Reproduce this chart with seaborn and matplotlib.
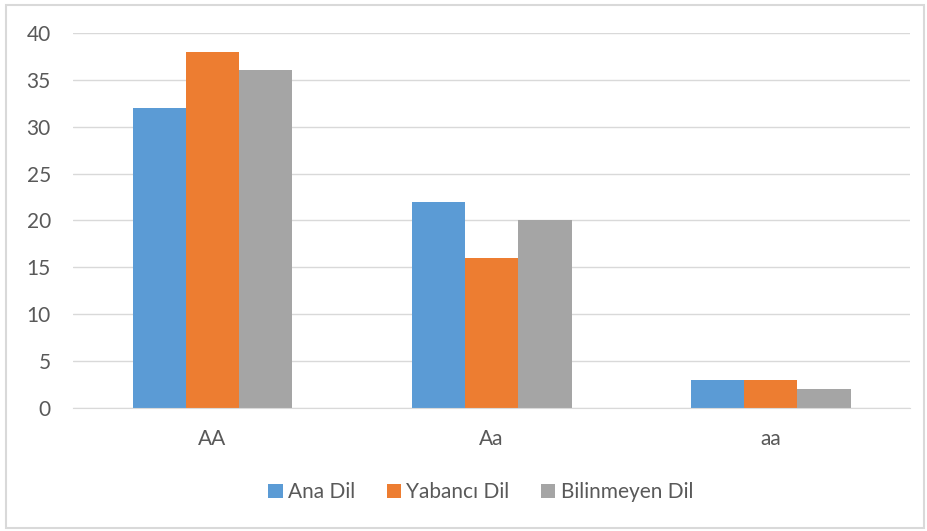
import pandas as pd
import seaborn as sns
import matplotlib.pyplot as plt
from matplotlib.patches import Rectangle

# data
genotypes = ['AA', 'Aa', 'aa']
series = ['Ana Dil', 'Yabancı Dil', 'Bilinmeyen Dil']
ana_dil = [32, 22, 3]
yabanci_dil = [38, 16, 3]
bilinmeyen_dil = [36, 20, 2]
colors = ['#5B9BD5', '#ED7D31', '#A5A5A5']

df = pd.DataFrame({
    'genotype': genotypes * 3,
    'group': [series[0]] * 3 + [series[1]] * 3 + [series[2]] * 3,
    'value': ana_dil + yabanci_dil + bilinmeyen_dil,
})

sns.set_style('white')
plt.rcParams['font.family'] = ['Lato', 'DejaVu Sans']

fig = plt.figure(figsize=(9.28, 5.31), dpi=100)
ax = fig.add_axes([0.0787, 0.2316, 0.902, 0.7063])

sns.barplot(data=df, x='genotype', y='value', hue='group', palette=colors,
            width=0.573, saturation=1, linewidth=0, ax=ax, legend=True)

ax.set_ylim(0, 40)
ax.set_yticks(range(0, 41, 5))
ax.set_xlim(-0.5, 2.5)
ax.grid(axis='y', color='#D9D9D9', linewidth=1)
ax.set_axisbelow(True)
for s in ['top', 'right', 'left']:
    ax.spines[s].set_visible(False)
ax.spines['bottom'].set_color('#D9D9D9')
ax.tick_params(axis='both', length=0, labelsize=15, colors='#595959')
ax.tick_params(axis='x', pad=15)
ax.tick_params(axis='y', pad=16)
ax.set_xlabel('')
ax.set_ylabel('')

ax.legend(loc='center', bbox_to_anchor=(0.487, -0.225), ncol=3, frameon=False,
          fontsize=15, labelcolor='#595959', handlelength=0.7, handleheight=0.7,
          handletextpad=0.25, columnspacing=1.5)

# outer chart border
fig.patches.append(Rectangle((0.006, 0.006), 0.99, 0.985, transform=fig.transFigure,
                             fill=False, edgecolor='#D9D9D9', linewidth=1.5))

fig.savefig('out.png', dpi=100)
